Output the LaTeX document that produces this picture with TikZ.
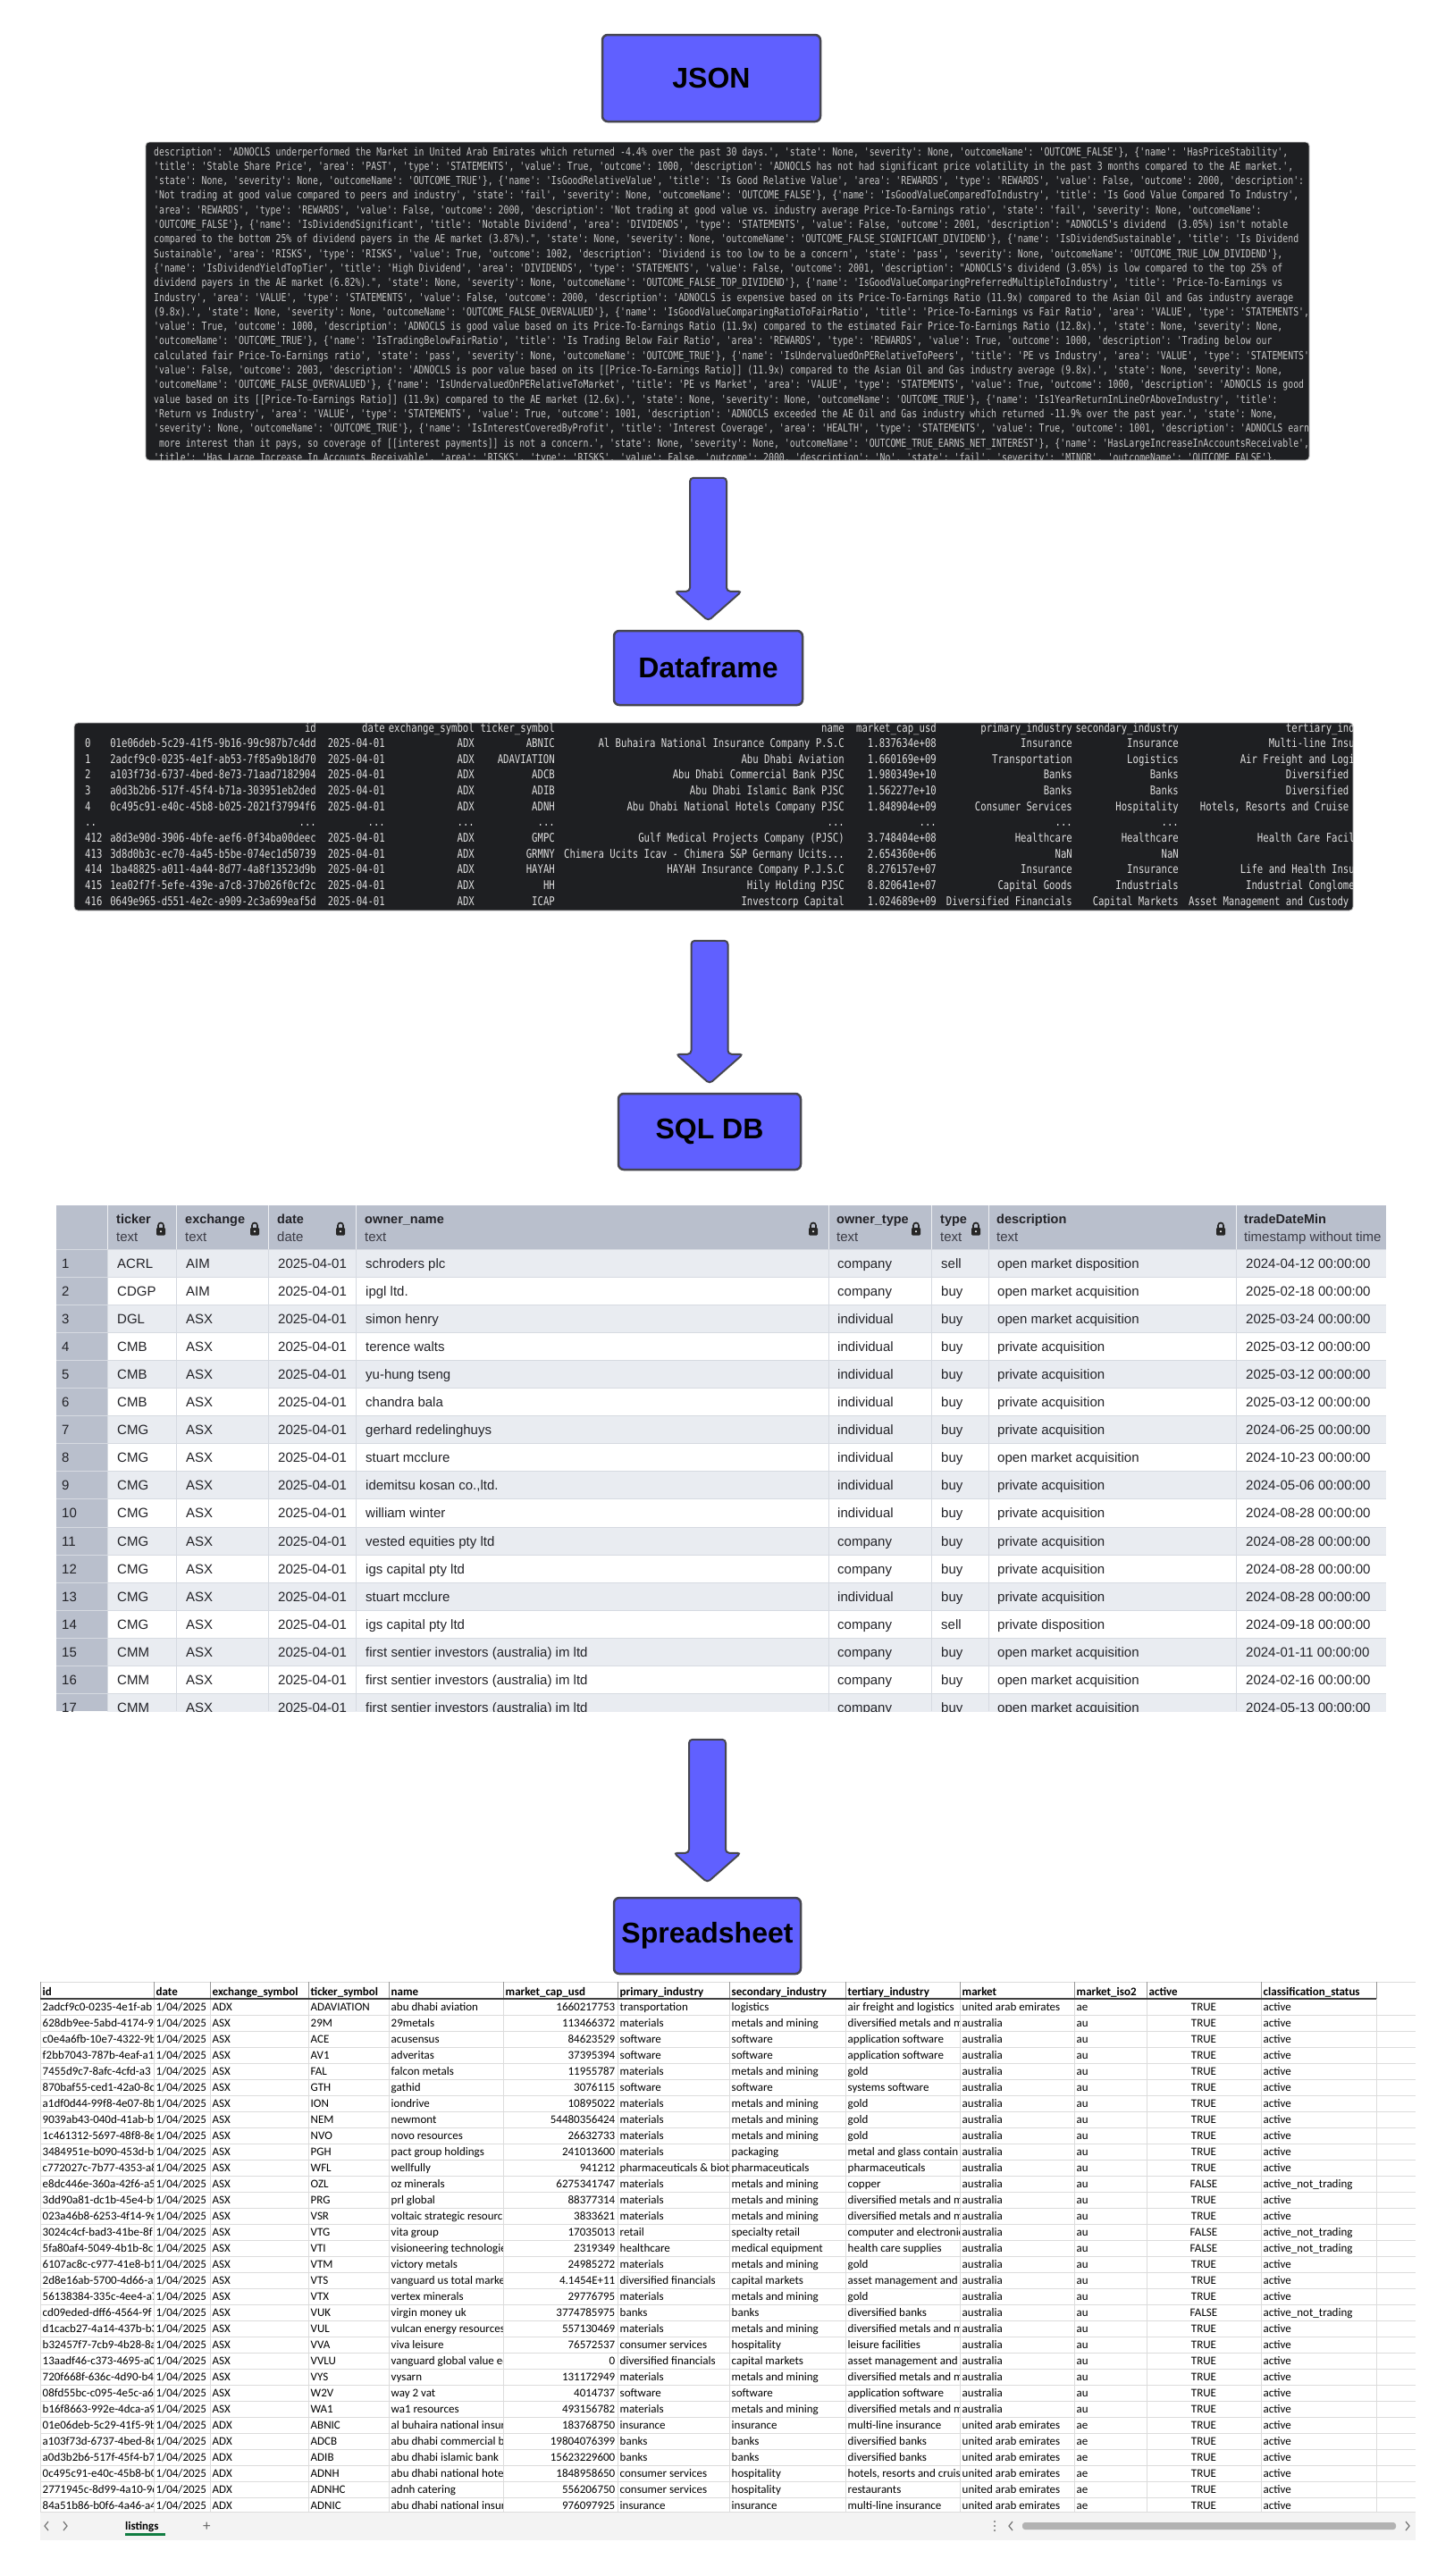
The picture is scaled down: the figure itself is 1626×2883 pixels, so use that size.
\documentclass[tikz,border=0pt]{standalone}
\usepackage{fontspec}
\setmainfont{Liberation Sans}
\setmonofont[FakeStretch=0.79]{DejaVu Sans Mono}
\newfontfamily\sheetfont{Carlito}
\usetikzlibrary{calc}

\definecolor{stageblue}{RGB}{96,96,255}
\definecolor{stageedge}{RGB}{70,70,80}
\definecolor{termbg}{RGB}{30,31,34}
\definecolor{jsontext}{RGB}{200,200,200}
\definecolor{dftext}{RGB}{222,222,222}
\definecolor{sqlhead}{RGB}{185,191,204}
\definecolor{sqlrow}{RGB}{233,236,241}
\definecolor{sqlgrid}{RGB}{214,218,225}
\definecolor{sqltext}{RGB}{35,35,40}
\definecolor{sqlsub}{RGB}{60,60,70}
\definecolor{xlgrid}{RGB}{220,220,220}
\definecolor{xlhdline}{RGB}{150,150,150}
\definecolor{xlbar}{RGB}{243,243,243}
\definecolor{xlgreen}{RGB}{16,124,65}

\newcommand{\tdots}{.{}.{}.}

\tikzset{
  stagebox/.style={draw=stageedge, line width=2.5pt, fill=stageblue, rounded corners=6pt,
    inner sep=0pt, font=\fontsize{32}{38}\selectfont\bfseries},
  termpanel/.style={fill=termbg, draw=gray!50, line width=0.8pt, rounded corners=4pt, inner sep=0pt},
  jsonline/.style={anchor=base west, inner sep=0pt, text=jsontext, font=\ttfamily\fontsize{12.47}{14}\selectfont},
  dfcell/.style={anchor=base east, inner sep=0pt, text=dftext, font=\ttfamily\fontsize{13.46}{15}\selectfont},
  sqlhd/.style={anchor=base west, inner sep=0pt, text=sqltext, font=\fontsize{14.5}{17}\selectfont\bfseries},
  sqlsubline/.style={anchor=base west, inner sep=0pt, text=sqlsub, font=\fontsize{15}{18}\selectfont},
  sqlcell/.style={anchor=base west, inner sep=0pt, text=sqltext, font=\fontsize{15}{18}\selectfont},
  xlhd/.style={anchor=base west, inner sep=0pt, font=\sheetfont\fontsize{13}{15}\selectfont\bfseries},
  xlcell/.style={anchor=base west, inner sep=0pt, font=\sheetfont\fontsize{13}{15}\selectfont},
  flowarrow/.pic={
    \filldraw[draw=stageedge, fill=stageblue, line width=2pt, rounded corners=4pt]
      (-20.5,-160) -- (20.5,-160) -- (20.5,-33) -- (37.5,-33) -- (0,0)
      -- (-37.5,-33) -- (-20.5,-33) -- cycle;
  },
  padlock/.pic={
    \fill[black!85, rounded corners=1.2pt] (-5,-1) rectangle (5,7.5);
    \draw[black!85, line width=1.7pt] (-3,-0.5) -- (-3,-3.5)
      arc[start angle=180, end angle=360, radius=3] -- (3,-0.5);
    \fill[white] (0,3.2) circle (1.1);
  }
}

\begin{document}
\begin{tikzpicture}[x=1pt, y=-1pt]
\useasboundingbox (0,0) rectangle (1626,2883);
\fill[white] (0,0) rectangle (1626,2883);

% Etapa JSON
\node[stagebox, minimum width=244, minimum height=97] (jsonbox) at (796,87.5) {JSON};
\node[termpanel, minimum width=1302, minimum height=356] (jsonpanel) at (814,337) {};
\begin{scope}
  \clip[rounded corners=4pt] (jsonpanel.north west) rectangle (jsonpanel.south east);
  \foreach \jtxt [count=\rw] in {
    {description': 'ADNOCLS underperformed the Market in United Arab Emirates which returned -4.4\% over the past 30 days.', 'state': None, 'severity': None, 'outcomeName': 'OUTCOME\_FALSE'\}, \{'name': 'HasPriceStability',},
    {'title': 'Stable Share Price', 'area': 'PAST', 'type': 'STATEMENTS', 'value': True, 'outcome': 1000, 'description': 'ADNOCLS has not had significant price volatility in the past 3 months compared to the AE market.',},
    {'state': None, 'severity': None, 'outcomeName': 'OUTCOME\_TRUE'\}, \{'name': 'IsGoodRelativeValue', 'title': 'Is Good Relative Value', 'area': 'REWARDS', 'type': 'REWARDS', 'value': False, 'outcome': 2000, 'description':},
    {'Not trading at good value compared to peers and industry', 'state': 'fail', 'severity': None, 'outcomeName': 'OUTCOME\_FALSE'\}, \{'name': 'IsGoodValueComparedToIndustry', 'title': 'Is Good Value Compared To Industry',},
    {'area': 'REWARDS', 'type': 'REWARDS', 'value': False, 'outcome': 2000, 'description': 'Not trading at good value vs. industry average Price-To-Earnings ratio', 'state': 'fail', 'severity': None, 'outcomeName':},
    {'OUTCOME\_FALSE'\}, \{'name': 'IsDividendSignificant', 'title': 'Notable Dividend', 'area': 'DIVIDENDS', 'type': 'STATEMENTS', 'value': False, 'outcome': 2001, 'description': "ADNOCLS's dividend~ (3.05\%) isn't notable},
    {compared to the bottom 25\% of dividend payers in the AE market (3.87\%).", 'state': None, 'severity': None, 'outcomeName': 'OUTCOME\_FALSE\_SIGNIFICANT\_DIVIDEND'\}, \{'name': 'IsDividendSustainable', 'title': 'Is Dividend},
    {Sustainable', 'area': 'RISKS', 'type': 'RISKS', 'value': True, 'outcome': 1002, 'description': 'Dividend is too low to be a concern', 'state': 'pass', 'severity': None, 'outcomeName': 'OUTCOME\_TRUE\_LOW\_DIVIDEND'\},},
    {\{'name': 'IsDividendYieldTopTier', 'title': 'High Dividend', 'area': 'DIVIDENDS', 'type': 'STATEMENTS', 'value': False, 'outcome': 2001, 'description': "ADNOCLS's dividend (3.05\%) is low compared to the top 25\% of},
    {dividend payers in the AE market (6.82\%).", 'state': None, 'severity': None, 'outcomeName': 'OUTCOME\_FALSE\_TOP\_DIVIDEND'\}, \{'name': 'IsGoodValueComparingPreferredMultipleToIndustry', 'title': 'Price-To-Earnings vs},
    {Industry', 'area': 'VALUE', 'type': 'STATEMENTS', 'value': False, 'outcome': 2000, 'description': 'ADNOCLS is expensive based on its Price-To-Earnings Ratio (11.9x) compared to the Asian Oil and Gas industry average},
    {(9.8x).', 'state': None, 'severity': None, 'outcomeName': 'OUTCOME\_FALSE\_OVERVALUED'\}, \{'name': 'IsGoodValueComparingRatioToFairRatio', 'title': 'Price-To-Earnings vs Fair Ratio', 'area': 'VALUE', 'type': 'STATEMENTS',},
    {'value': True, 'outcome': 1000, 'description': 'ADNOCLS is good value based on its Price-To-Earnings Ratio (11.9x) compared to the estimated Fair Price-To-Earnings Ratio (12.8x).', 'state': None, 'severity': None,},
    {'outcomeName': 'OUTCOME\_TRUE'\}, \{'name': 'IsTradingBelowFairRatio', 'title': 'Is Trading Below Fair Ratio', 'area': 'REWARDS', 'type': 'REWARDS', 'value': True, 'outcome': 1000, 'description': 'Trading below our},
    {calculated fair Price-To-Earnings ratio', 'state': 'pass', 'severity': None, 'outcomeName': 'OUTCOME\_TRUE'\}, \{'name': 'IsUndervaluedOnPERelativeToPeers', 'title': 'PE vs Industry', 'area': 'VALUE', 'type': 'STATEMENTS',},
    {'value': False, 'outcome': 2003, 'description': 'ADNOCLS is poor value based on its [[Price-To-Earnings Ratio]] (11.9x) compared to the Asian Oil and Gas industry average (9.8x).', 'state': None, 'severity': None,},
    {'outcomeName': 'OUTCOME\_FALSE\_OVERVALUED'\}, \{'name': 'IsUndervaluedOnPERelativeToMarket', 'title': 'PE vs Market', 'area': 'VALUE', 'type': 'STATEMENTS', 'value': True, 'outcome': 1000, 'description': 'ADNOCLS is good},
    {value based on its [[Price-To-Earnings Ratio]] (11.9x) compared to the AE market (12.6x).', 'state': None, 'severity': None, 'outcomeName': 'OUTCOME\_TRUE'\}, \{'name': 'Is1YearReturnInLineOrAboveIndustry', 'title':},
    {'Return vs Industry', 'area': 'VALUE', 'type': 'STATEMENTS', 'value': True, 'outcome': 1001, 'description': 'ADNOCLS exceeded the AE Oil and Gas industry which returned -11.9\% over the past year.', 'state': None,},
    {'severity': None, 'outcomeName': 'OUTCOME\_TRUE'\}, \{'name': 'IsInterestCoveredByProfit', 'title': 'Interest Coverage', 'area': 'HEALTH', 'type': 'STATEMENTS', 'value': True, 'outcome': 1001, 'description': 'ADNOCLS earns},
    {\phantom{x}more interest than it pays, so coverage of [[interest payments]] is not a concern.', 'state': None, 'severity': None, 'outcomeName': 'OUTCOME\_TRUE\_EARNS\_NET\_INTEREST'\}, \{'name': 'HasLargeIncreaseInAccountsReceivable',},
    {'title': 'Has Large Increase In Accounts Receivable', 'area': 'RISKS', 'type': 'RISKS', 'value': False, 'outcome': 2000, 'description': 'No', 'state': 'fail', 'severity': 'MINOR', 'outcomeName': 'OUTCOME\_FALSE'\},}}
    \node[jsonline] (jl\rw) at (172,{174+(\rw-1)*16.3}) {\jtxt};
\end{scope}

% Etapa Dataframe
\node[stagebox, minimum width=211, minimum height=83] (dfbox) at (792.5,747.5) {Dataframe};
\pic at ($(dfbox.north)+(0,-10)$) {flowarrow};
\node[termpanel, minimum width=1431, minimum height=210] (dfpanel) at (798.5,914) {};
\begin{scope}
  \clip[rounded corners=4pt] (dfpanel.north west) rectangle (dfpanel.south east);
  \foreach \hx/\htxt [count=\c] in {354/id, 431/date, 531/exchange\_symbol, 621/ticker\_symbol,
      945/name, 1048/market\_cap\_usd, 1200/primary\_industry, 1319/secondary\_industry,
      1548/tertiary\_industry}
    \node[dfcell] (dfh\c) at (\hx,819) {\htxt};
  \foreach \ix/\uid/\dt/\exch/\tick/\coname/\mcap/\pind/\sind/\tind [count=\rw] in {
    0/01e06deb-5c29-41f5-9b16-99c987b7c4dd/2025-04-01/ADX/ABNIC/Al Buhaira National Insurance Company P.S.C/1.837634e+08/Insurance/Insurance/Multi-line Insurance,
    1/2adcf9c0-0235-4e1f-ab53-7f85a9b18d70/2025-04-01/ADX/ADAVIATION/Abu Dhabi Aviation/1.660169e+09/Transportation/Logistics/Air Freight and Logistics,
    2/a103f73d-6737-4bed-8e73-71aad7182904/2025-04-01/ADX/ADCB/Abu Dhabi Commercial Bank PJSC/1.980349e+10/Banks/Banks/Diversified Banks,
    3/a0d3b2b6-517f-45f4-b71a-303951eb2ded/2025-04-01/ADX/ADIB/Abu Dhabi Islamic Bank PJSC/1.562277e+10/Banks/Banks/Diversified Banks,
    4/0c495c91-e40c-45b8-b025-2021f37994f6/2025-04-01/ADX/ADNH/Abu Dhabi National Hotels Company PJSC/1.848904e+09/Consumer Services/Hospitality/{Hotels, Resorts and Cruise Lines},
    ../\tdots/\tdots/\tdots/\tdots/\tdots/\tdots/\tdots/\tdots/\tdots,
    412/a8d3e90d-3906-4bfe-aef6-0f34ba00deec/2025-04-01/ADX/GMPC/Gulf Medical Projects Company (PJSC)/3.748404e+08/Healthcare/Healthcare/Health Care Facilities,
    413/3d8d0b3c-ec70-4a45-b5be-074ec1d50739/2025-04-01/ADX/GRMNY/Chimera Ucits Icav - Chimera S\&P Germany Ucits\tdots/2.654360e+06/NaN/NaN/NaN,
    414/1ba48825-a011-4a44-8d77-4a8f13523d9b/2025-04-01/ADX/HAYAH/HAYAH Insurance Company P.J.S.C/8.276157e+07/Insurance/Insurance/Life and Health Insurance,
    415/1ea02f7f-5efe-439e-a7c8-37b026f0cf2c/2025-04-01/ADX/HH/Hily Holding PJSC/8.820641e+07/Capital Goods/Industrials/Industrial Conglomerates,
    416/0649e965-d551-4e2c-a909-2c3a699eaf5d/2025-04-01/ADX/ICAP/Investcorp Capital/1.024689e+09/Diversified Financials/Capital Markets/Asset Management and Custody Banks}{
    \pgfmathsetmacro\yb{819+\rw*17.64}
    \node[dfcell, anchor=base west] (dix\rw) at (95,\yb) {\ix};
    \node[dfcell] (did\rw) at (354,\yb) {\uid};
    \node[dfcell] (ddt\rw) at (431,\yb) {\dt};
    \node[dfcell] (dex\rw) at (531,\yb) {\exch};
    \node[dfcell] (dtk\rw) at (621,\yb) {\tick};
    \node[dfcell] (dnm\rw) at (945,\yb) {\coname};
    \node[dfcell] (dmc\rw) at (1048,\yb) {\mcap};
    \node[dfcell] (dpi\rw) at (1200,\yb) {\pind};
    \node[dfcell] (dsi\rw) at (1319,\yb) {\sind};
    \node[dfcell] (dti\rw) at (1548,\yb) {\tind};
  }
\end{scope}

% Etapa SQL DB
\node[stagebox, minimum width=204, minimum height=85] (sqlbox) at (794,1266.5) {SQL DB};
\pic at ($(sqlbox.north)+(0,-10)$) {flowarrow};
\begin{scope}
  \clip (63,1336) rectangle (1551,1915);
  \fill[sqlhead] (63,1349) rectangle (1551,1398);
  \fill[sqlhead] (63,1398) rectangle (120,1915);
  \foreach \tk/\ex/\own/\otype/\ty/\desc/\tdm [count=\rw] in {
    ACRL/AIM/schroders plc/company/sell/open market disposition/2024-04-12 00:00:00,
    CDGP/AIM/ipgl ltd./company/buy/open market acquisition/2025-02-18 00:00:00,
    DGL/ASX/simon henry/individual/buy/open market acquisition/2025-03-24 00:00:00,
    CMB/ASX/terence walts/individual/buy/private acquisition/2025-03-12 00:00:00,
    CMB/ASX/yu-hung tseng/individual/buy/private acquisition/2025-03-12 00:00:00,
    CMB/ASX/chandra bala/individual/buy/private acquisition/2025-03-12 00:00:00,
    CMG/ASX/gerhard redelinghuys/individual/buy/private acquisition/2024-06-25 00:00:00,
    CMG/ASX/stuart mcclure/individual/buy/open market acquisition/2024-10-23 00:00:00,
    CMG/ASX/{idemitsu kosan co.,ltd.}/individual/buy/private acquisition/2024-05-06 00:00:00,
    CMG/ASX/william winter/individual/buy/private acquisition/2024-08-28 00:00:00,
    CMG/ASX/vested equities pty ltd/company/buy/private acquisition/2024-08-28 00:00:00,
    CMG/ASX/igs capital pty ltd/company/buy/private acquisition/2024-08-28 00:00:00,
    CMG/ASX/stuart mcclure/individual/buy/private acquisition/2024-08-28 00:00:00,
    CMG/ASX/igs capital pty ltd/company/sell/private disposition/2024-09-18 00:00:00,
    CMM/ASX/first sentier investors (australia) im ltd/company/buy/open market acquisition/2024-01-11 00:00:00,
    CMM/ASX/first sentier investors (australia) im ltd/company/buy/open market acquisition/2024-02-16 00:00:00,
    CMM/ASX/first sentier investors (australia) im ltd/company/buy/open market acquisition/2024-05-13 00:00:00}{
    \pgfmathsetmacro\yt{1398+(\rw-1)*31.1}
    \ifodd\rw \fill[sqlrow] (120,\yt) rectangle (1551,{\yt+31.1}); \fi
    \node[sqlcell] (snum\rw) at (69,{\yt+21}) {\rw};
    \node[sqlcell] (stk\rw) at (131,{\yt+21}) {\tk};
    \node[sqlcell] (sex\rw) at (208,{\yt+21}) {\ex};
    \node[sqlcell] (sdt\rw) at (311,{\yt+21}) {2025-04-01};
    \node[sqlcell] (sow\rw) at (409,{\yt+21}) {\own};
    \node[sqlcell] (sot\rw) at (937,{\yt+21}) {\otype};
    \node[sqlcell] (sty\rw) at (1053,{\yt+21}) {\ty};
    \node[sqlcell] (sds\rw) at (1116,{\yt+21}) {\desc};
    \node[sqlcell] (stm\rw) at (1394,{\yt+21}) {\tdm};
  }
  \foreach \gx in {120,197,300,398,927,1042,1106,1383}{
    \draw[white!75!sqlhead, line width=1pt] (\gx,1349) -- (\gx,1398);
    \draw[sqlgrid, line width=1pt] (\gx,1398) -- (\gx,1915);
  }
  \foreach \k in {0,...,17}
    \draw[sqlgrid, line width=1pt] (63,{1398+\k*31.1}) -- (1551,{1398+\k*31.1});
  \foreach \hx/\hname/\htype [count=\c] in {130/ticker/text, 207/exchange/text, 310/date/date,
      408/owner\_name/text, 936/owner\_type/text, 1052/type/text, 1115/description/text,
      1392/tradeDateMin/timestamp without time}{
    \node[sqlhd] (sqh\c) at (\hx,1369) {\hname};
    \node[sqlsubline] (sqt\c) at (\hx,1389) {\htype};
  }
  \foreach \lx in {180,285,381,910,1025,1092,1366}
    \pic at (\lx,1375) {padlock};
\end{scope}

% Etapa Spreadsheet
\node[stagebox, minimum width=209, minimum height=85] (sheetbox) at (791.5,2166.5) {Spreadsheet};
\pic at ($(sheetbox.north)+(0,-16)$) {flowarrow};
\draw[xlgrid] (45,2218) -- (1584,2218);
\foreach \k in {1,...,32}
  \draw[xlgrid] (45,{2237+\k*18}) -- (1584,{2237+\k*18});
\foreach \gx in {45,172,235,345,435,563,691,816,946,1074,1202,1283,1411,1540}{
  \draw[xlgrid] (\gx,2237) -- (\gx,2811);
  \draw[xlhdline] (\gx,2218) -- (\gx,2237);
}
\draw[black!75, line width=1.3pt] (45,2237) -- (1540,2237);
\foreach \hx/\hname [count=\c] in {47.5/id, 174.5/date, 237.5/exchange\_symbol, 347.5/ticker\_symbol,
    437.5/name, 565.5/market\_cap\_usd, 693.5/primary\_industry, 818.5/secondary\_industry,
    948.5/tertiary\_industry, 1076.5/market, 1204.5/market\_iso2, 1285.5/active, 1413.5/classification\_status}
  \node[xlhd] (xh\c) at (\hx,2233) {\hname};
\foreach \uid/\exch/\tick/\coname/\mcap/\pind/\sind/\tind/\mkt/\iso/\act/\stat [count=\rw] in {
  2adcf9c0-0235-4e1f-ab/ADX/ADAVIATION/abu dhabi aviation/1660217753/transportation/logistics/air freight and logistics/united arab emirates/ae/TRUE/active,
  628db9ee-5abd-4174-9a/ASX/29M/29metals/113466372/materials/metals and mining/diversified metals and mi/australia/au/TRUE/active,
  c0e4a6fb-10e7-4322-9b/ASX/ACE/acusensus/84623529/software/software/application software/australia/au/TRUE/active,
  f2bb7043-787b-4eaf-a1/ASX/AV1/adveritas/37395394/software/software/application software/australia/au/TRUE/active,
  7455d9c7-8afc-4cfd-a3/ASX/FAL/falcon metals/11955787/materials/metals and mining/gold/australia/au/TRUE/active,
  870baf55-ced1-42a0-8d/ASX/GTH/gathid/3076115/software/software/systems software/australia/au/TRUE/active,
  a1df0d44-99f8-4e07-8b/ASX/ION/iondrive/10895022/materials/metals and mining/gold/australia/au/TRUE/active,
  9039ab43-040d-41ab-b7/ASX/NEM/newmont/54480356424/materials/metals and mining/gold/australia/au/TRUE/active,
  1c461312-5697-48f8-8e/ASX/NVO/novo resources/26632733/materials/metals and mining/gold/australia/au/TRUE/active,
  3484951e-b090-453d-b2/ASX/PGH/pact group holdings/241013600/materials/packaging/metal and glass contain/australia/au/TRUE/active,
  c772027c-7b77-4353-a8/ASX/WFL/wellfully/941212/pharmaceuticals \& biote/pharmaceuticals/pharmaceuticals/australia/au/TRUE/active,
  e8dc446e-360a-42f6-a5/ASX/OZL/oz minerals/6275341747/materials/metals and mining/copper/australia/au/FALSE/active\_not\_trading,
  3dd90a81-dc1b-45e4-b0/ASX/PRG/prl global/88377314/materials/metals and mining/diversified metals and mi/australia/au/TRUE/active,
  023a46b8-6253-4f14-9e/ASX/VSR/voltaic strategic resourc/3833621/materials/metals and mining/diversified metals and mi/australia/au/TRUE/active,
  3024c4cf-bad3-41be-8f/ASX/VTG/vita group/17035013/retail/specialty retail/computer and electronic/australia/au/FALSE/active\_not\_trading,
  5fa80af4-5049-4b1b-8c/ASX/VTI/visioneering technologie/2319349/healthcare/medical equipment/health care supplies/australia/au/FALSE/active\_not\_trading,
  6107ac8c-c977-41e8-b1/ASX/VTM/victory metals/24985272/materials/metals and mining/gold/australia/au/TRUE/active,
  2d8e16ab-5700-4d66-a2/ASX/VTS/vanguard us total market/4.1454E+11/diversified financials/capital markets/asset management and c/australia/au/TRUE/active,
  56138384-335c-4ee4-a7/ASX/VTX/vertex minerals/29776795/materials/metals and mining/gold/australia/au/TRUE/active,
  cd09eded-dff6-4564-9f/ASX/VUK/virgin money uk/3774785975/banks/banks/diversified banks/australia/au/FALSE/active\_not\_trading,
  d1cacb27-4a14-437b-b3/ASX/VUL/vulcan energy resources/557130469/materials/metals and mining/diversified metals and mi/australia/au/TRUE/active,
  b32457f7-7cb9-4b28-8a/ASX/VVA/viva leisure/76572537/consumer services/hospitality/leisure facilities/australia/au/TRUE/active,
  13aadf46-c373-4695-a0/ASX/VVLU/vanguard global value eq/0/diversified financials/capital markets/asset management and c/australia/au/TRUE/active,
  720f668f-636c-4d90-b4/ASX/VYS/vysarn/131172949/materials/metals and mining/diversified metals and mi/australia/au/TRUE/active,
  08fd55bc-c095-4e5c-a6/ASX/W2V/way 2 vat/4014737/software/software/application software/australia/au/TRUE/active,
  b16f8663-992e-4dca-a9/ASX/WA1/wa1 resources/493156782/materials/metals and mining/diversified metals and mi/australia/au/TRUE/active,
  01e06deb-5c29-41f5-9b/ADX/ABNIC/al buhaira national insura/183768750/insurance/insurance/multi-line insurance/united arab emirates/ae/TRUE/active,
  a103f73d-6737-4bed-8e/ADX/ADCB/abu dhabi commercial b/19804076399/banks/banks/diversified banks/united arab emirates/ae/TRUE/active,
  a0d3b2b6-517f-45f4-b7/ADX/ADIB/abu dhabi islamic bank/15623229600/banks/banks/diversified banks/united arab emirates/ae/TRUE/active,
  0c495c91-e40c-45b8-b0/ADX/ADNH/abu dhabi national hotel/1848958650/consumer services/hospitality/{hotels, resorts and cruis}/united arab emirates/ae/TRUE/active,
  2771945c-8d99-4a10-9c/ADX/ADNHC/adnh catering/556206750/consumer services/hospitality/restaurants/united arab emirates/ae/TRUE/active,
  84a51b86-b0f6-4a46-a4/ADX/ADNIC/abu dhabi national insur/976097925/insurance/insurance/multi-line insurance/united arab emirates/ae/TRUE/active}{
  \pgfmathsetmacro\yb{2250.5+(\rw-1)*18}
  \begin{scope}
    \clip (45,2237) rectangle (171.5,2811);
    \node[xlcell] (xid\rw) at (47.5,\yb) {\uid};
  \end{scope}
  \node[xlcell] (xdt\rw) at (174.5,\yb) {1/04/2025};
  \node[xlcell] (xex\rw) at (237.5,\yb) {\exch};
  \node[xlcell] (xtk\rw) at (347.5,\yb) {\tick};
  \begin{scope}
    \clip (435,2237) rectangle (562.5,2811);
    \node[xlcell] (xnm\rw) at (437.5,\yb) {\coname};
  \end{scope}
  \node[xlcell, anchor=base east] (xmc\rw) at (688.5,\yb) {\mcap};
  \begin{scope}
    \clip (691,2237) rectangle (815.5,2811);
    \node[xlcell] (xpi\rw) at (693.5,\yb) {\pind};
  \end{scope}
  \node[xlcell] (xsi\rw) at (818.5,\yb) {\sind};
  \begin{scope}
    \clip (946,2237) rectangle (1073.5,2811);
    \node[xlcell] (xti\rw) at (948.5,\yb) {\tind};
  \end{scope}
  \node[xlcell] (xmk\rw) at (1076.5,\yb) {\mkt};
  \node[xlcell] (xis\rw) at (1204.5,\yb) {\iso};
  \node[xlcell, anchor=base] (xac\rw) at (1347,\yb) {\act};
  \node[xlcell] (xst\rw) at (1413.5,\yb) {\stat};
}

% Barra de hojas
\fill[xlbar] (45,2811) rectangle (1584,2843);
\draw[xlgrid] (45,2811) -- (1584,2811);
\draw[black!55, line width=1.2pt] (54,2822) -- (50,2827) -- (54,2832);
\draw[black!55, line width=1.2pt] (71,2822) -- (75,2827) -- (71,2832);
\node[xlcell, font=\sheetfont\fontsize{13}{15}\selectfont\bfseries] (tabname) at (140,2831) {listings};
\draw[xlgreen, line width=2.5pt] (tabname.south west) ++(0,3) -- ++(45,0);
\node[xlcell, text=black!60, font=\sheetfont\fontsize{17}{18}\selectfont] (tabplus) at (227,2832) {+};
\foreach \dy in {-5,0,5}
  \fill[black!55] (1113,{2827+\dy}) circle (1.1);
\draw[black!55, line width=1.2pt] (1133,2822) -- (1129,2827) -- (1133,2832);
\fill[black!30, rounded corners=3pt] (1144,2823) rectangle (1562,2831);
\draw[black!55, line width=1.2pt] (1573,2822) -- (1577,2827) -- (1573,2832);
\end{tikzpicture}
\end{document}
